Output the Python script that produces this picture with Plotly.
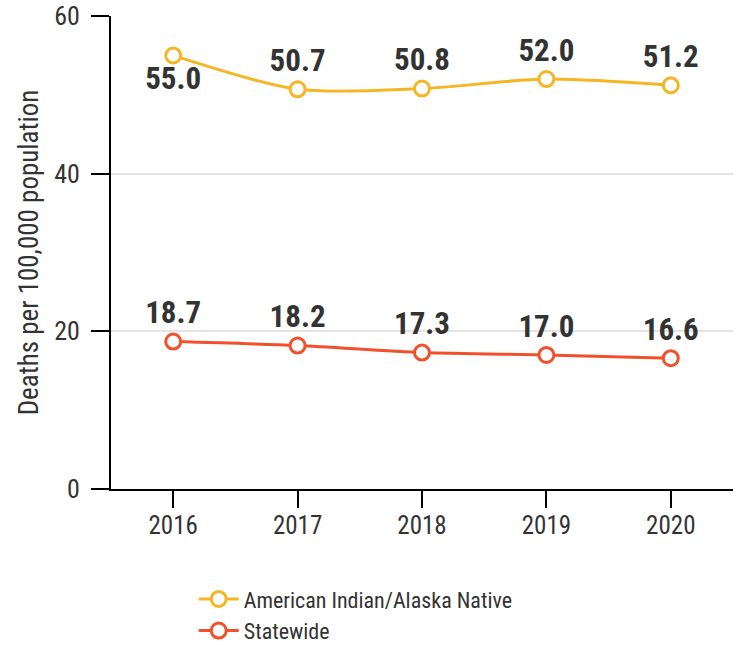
import plotly.graph_objects as go

years = ["2016", "2017", "2018", "2019", "2020"]
aian = [55.0, 50.7, 50.8, 52.0, 51.2]
statewide = [18.7, 18.2, 17.3, 17.0, 16.6]
aian_pos = ["bottom center", "top center", "top center", "top center", "top center"]
state_pos = ["top center"] * 5

FONT = "Roboto Condensed, Liberation Sans Narrow, Roboto, sans-serif"
YEL = "#F6B623"
RED = "#F2502C"

fig = go.Figure()
fig.add_trace(go.Scatter(
    x=years, y=aian, name="American Indian/Alaska Native",
    mode="lines+markers+text",
    line=dict(color=YEL, width=3, shape="spline", smoothing=0.8),
    marker=dict(size=15, color="white", line=dict(color=YEL, width=3)),
    text=[f"{v:.1f}" for v in aian], textposition=aian_pos,
    textfont=dict(family=FONT, size=31, color="#333333", weight="bold"),
    cliponaxis=False,
))
fig.add_trace(go.Scatter(
    x=years, y=statewide, name="Statewide",
    mode="lines+markers+text",
    line=dict(color=RED, width=3, shape="spline", smoothing=0.8),
    marker=dict(size=15, color="white", line=dict(color=RED, width=3)),
    text=[f"{v:.1f}" for v in statewide], textposition=state_pos,
    textfont=dict(family=FONT, size=31, color="#333333", weight="bold"),
    cliponaxis=False,
))

fig.update_layout(
    width=743, height=645,
    margin=dict(l=111, r=10, t=16, b=156, autoexpand=False),
    paper_bgcolor="white", plot_bgcolor="white",
    font=dict(family=FONT, color="#333333"),
    showlegend=True,
    legend=dict(x=0.133, y=-0.345, xanchor="left", yanchor="bottom",
                font=dict(size=22, color="#333333", family=FONT),
                tracegroupgap=0, itemwidth=40),
)
fig.update_xaxes(
    type="category", range=[-0.5, 4.5], automargin=False,
    showline=True, linecolor="black", linewidth=2,
    ticks="outside", ticklen=17, tickwidth=2, tickcolor="black",
    tickfont=dict(size=25, color="#333333"), showgrid=False,
    ticklabelstandoff=-4,
)
fig.update_yaxes(
    range=[0, 60], tickvals=[0, 20, 40, 60], automargin=False,
    showline=True, linecolor="black", linewidth=2,
    ticks="outside", ticklen=18, tickwidth=2, tickcolor="black",
    tickfont=dict(size=26, color="#333333"),
    showgrid=True, gridcolor="#e3e3e3", gridwidth=2, zeroline=False,
    ticklabelstandoff=6,
    title=dict(text="Deaths per 100,000 population", font=dict(size=27, color="#333333"), standoff=8),
)
fig.write_html("out.html", post_script="document.body.style.margin='0';",
               config={"displayModeBar": False})
